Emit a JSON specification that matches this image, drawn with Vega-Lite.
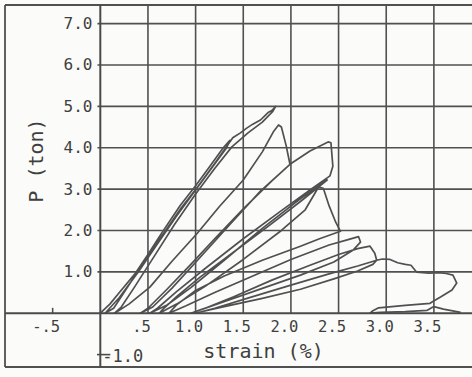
{
  "$schema": "https://vega.github.io/schema/vega-lite/v6.json",
  "width": 467,
  "height": 362,
  "autosize": {"type": "none"},
  "padding": {"left": 5, "top": 5, "right": 0, "bottom": 10},
  "background": "#fbfbf9",
  "config": {"view": {"stroke": null}},
  "data": {"values": [{}]},
  "datasets": {
    "vgrid": [{"s": 0.5}, {"s": 1.0}, {"s": 1.5}, {"s": 2.0}, {"s": 2.5}, {"s": 3.0}, {"s": 3.5}],
    "hgrid": [{"p": 1}, {"p": 2}, {"p": 3}, {"p": 4}, {"p": 5}, {"p": 6}, {"p": 7}],
    "curve": [
      {"t":1,"s":0,"p":0},{"t":2,"s":0.1,"p":0.22},{"t":3,"s":0.2,"p":0.5},{"t":4,"s":0.37,"p":0.97},{"t":5,"s":0.5,"p":1.42},{"t":6,"s":0.65,"p":1.96},{"t":7,"s":0.84,"p":2.61},{"t":8,"s":1.0,"p":3.08},{"t":9,"s":1.15,"p":3.55},{"t":10,"s":1.29,"p":4.0},{"t":11,"s":1.36,"p":4.18},
      {"t":12,"s":1.32,"p":3.98},{"t":13,"s":1.15,"p":3.45},{"t":14,"s":1.0,"p":2.98},{"t":15,"s":0.8,"p":2.35},{"t":16,"s":0.6,"p":1.68},{"t":17,"s":0.4,"p":1.0},{"t":18,"s":0.2,"p":0.38},{"t":19,"s":0.05,"p":0},
      {"t":20,"s":0.14,"p":0.12},{"t":21,"s":0.3,"p":0.68},{"t":22,"s":0.5,"p":1.38},{"t":23,"s":0.7,"p":2.05},{"t":24,"s":0.85,"p":2.55},{"t":25,"s":1.02,"p":3.05},{"t":26,"s":1.2,"p":3.62},{"t":27,"s":1.39,"p":4.24},{"t":28,"s":1.47,"p":4.36},{"t":29,"s":1.54,"p":4.48},{"t":30,"s":1.6,"p":4.57},{"t":31,"s":1.68,"p":4.67},{"t":32,"s":1.72,"p":4.76},{"t":33,"s":1.76,"p":4.85},{"t":34,"s":1.8,"p":4.9},{"t":35,"s":1.84,"p":5.0},
      {"t":36,"s":1.81,"p":4.88},{"t":37,"s":1.7,"p":4.62},{"t":38,"s":1.55,"p":4.36},{"t":39,"s":1.38,"p":4.02},{"t":40,"s":1.2,"p":3.5},{"t":41,"s":1.0,"p":2.88},{"t":42,"s":0.78,"p":2.15},{"t":43,"s":0.55,"p":1.32},{"t":44,"s":0.35,"p":0.6},{"t":45,"s":0.22,"p":0.15},{"t":46,"s":0.15,"p":0},
      {"t":47,"s":0.3,"p":0.22},{"t":48,"s":0.52,"p":0.63},{"t":49,"s":0.75,"p":1.25},{"t":50,"s":1.02,"p":1.94},{"t":51,"s":1.25,"p":2.58},{"t":52,"s":1.5,"p":3.22},{"t":53,"s":1.7,"p":3.9},{"t":54,"s":1.82,"p":4.4},{"t":55,"s":1.87,"p":4.55},{"t":56,"s":1.9,"p":4.5},{"t":57,"s":1.95,"p":4.05},{"t":58,"s":1.99,"p":3.6},
      {"t":59,"s":1.8,"p":3.2},{"t":60,"s":1.5,"p":2.52},{"t":61,"s":1.2,"p":1.8},{"t":62,"s":0.95,"p":1.18},{"t":63,"s":0.7,"p":0.58},{"t":64,"s":0.5,"p":0.12},{"t":65,"s":0.42,"p":0},
      {"t":66,"s":0.55,"p":0.15},{"t":67,"s":0.75,"p":0.6},{"t":68,"s":1.02,"p":1.28},{"t":69,"s":1.35,"p":2.12},{"t":70,"s":1.68,"p":2.95},{"t":71,"s":1.99,"p":3.6},{"t":72,"s":2.2,"p":3.92},{"t":73,"s":2.39,"p":4.14},{"t":74,"s":2.42,"p":4.12},{"t":75,"s":2.44,"p":3.55},{"t":76,"s":2.41,"p":3.32},
      {"t":77,"s":2.2,"p":2.98},{"t":78,"s":1.9,"p":2.48},{"t":79,"s":1.5,"p":1.8},{"t":80,"s":1.1,"p":1.08},{"t":81,"s":0.8,"p":0.52},{"t":82,"s":0.6,"p":0.12},{"t":83,"s":0.52,"p":0},
      {"t":84,"s":0.7,"p":0.2},{"t":85,"s":0.95,"p":0.62},{"t":86,"s":1.3,"p":1.28},{"t":87,"s":1.7,"p":2.05},{"t":88,"s":2.05,"p":2.68},{"t":89,"s":2.25,"p":3.02},{"t":90,"s":2.38,"p":3.22},
      {"t":91,"s":2.1,"p":2.7},{"t":92,"s":1.75,"p":2.08},{"t":93,"s":1.4,"p":1.48},{"t":94,"s":1.05,"p":0.88},{"t":95,"s":0.8,"p":0.4},{"t":96,"s":0.65,"p":0.08},{"t":97,"s":0.62,"p":0},
      {"t":98,"s":0.8,"p":0.22},{"t":99,"s":1.1,"p":0.65},{"t":100,"s":1.5,"p":1.3},{"t":101,"s":1.9,"p":2.0},{"t":102,"s":2.15,"p":2.5},{"t":103,"s":2.29,"p":3.05},{"t":104,"s":2.34,"p":3.02},{"t":105,"s":2.4,"p":2.6},{"t":106,"s":2.47,"p":2.2},{"t":107,"s":2.52,"p":1.98},
      {"t":108,"s":2.3,"p":1.8},{"t":109,"s":2.1,"p":1.62},{"t":110,"s":1.7,"p":1.28},{"t":111,"s":1.3,"p":0.9},{"t":112,"s":1.0,"p":0.55},{"t":113,"s":0.8,"p":0.2},{"t":114,"s":0.72,"p":0},
      {"t":115,"s":0.9,"p":0.18},{"t":116,"s":1.2,"p":0.5},{"t":117,"s":1.6,"p":0.9},{"t":118,"s":2.0,"p":1.3},{"t":119,"s":2.4,"p":1.65},{"t":120,"s":2.6,"p":1.78},{"t":121,"s":2.71,"p":1.85},{"t":122,"s":2.73,"p":1.72},{"t":123,"s":2.65,"p":1.52},{"t":124,"s":2.45,"p":1.24},
      {"t":125,"s":2.1,"p":0.92},{"t":126,"s":1.7,"p":0.6},{"t":127,"s":1.35,"p":0.32},{"t":128,"s":1.05,"p":0.08},{"t":129,"s":0.95,"p":0},
      {"t":130,"s":1.1,"p":0.12},{"t":131,"s":1.4,"p":0.4},{"t":132,"s":1.8,"p":0.8},{"t":133,"s":2.2,"p":1.16},{"t":134,"s":2.5,"p":1.42},{"t":135,"s":2.7,"p":1.56},{"t":136,"s":2.83,"p":1.62},{"t":137,"s":2.88,"p":1.45},{"t":138,"s":2.9,"p":1.28},
      {"t":139,"s":2.86,"p":1.18},{"t":140,"s":2.7,"p":1.02},{"t":141,"s":2.45,"p":0.83},{"t":142,"s":2.1,"p":0.58},{"t":143,"s":1.7,"p":0.36},{"t":144,"s":1.3,"p":0.16},{"t":145,"s":1.05,"p":0.03},{"t":146,"s":1.0,"p":0},
      {"t":147,"s":1.2,"p":0.12},{"t":148,"s":1.6,"p":0.4},{"t":149,"s":2.0,"p":0.68},{"t":150,"s":2.4,"p":0.95},{"t":151,"s":2.7,"p":1.14},{"t":152,"s":2.9,"p":1.28},{"t":153,"s":2.96,"p":1.31},{"t":154,"s":3.04,"p":1.3},{"t":155,"s":3.12,"p":1.22},{"t":156,"s":3.2,"p":1.18},{"t":157,"s":3.26,"p":1.16},{"t":158,"s":3.32,"p":0.99},{"t":159,"s":3.45,"p":0.97},{"t":160,"s":3.55,"p":0.98},{"t":161,"s":3.63,"p":0.96},{"t":162,"s":3.7,"p":0.92},{"t":163,"s":3.74,"p":0.73},{"t":164,"s":3.69,"p":0.56},{"t":165,"s":3.57,"p":0.39},{"t":166,"s":3.48,"p":0.27},{"t":167,"s":3.46,"p":0.24},{"t":168,"s":3.2,"p":0.19},{"t":169,"s":2.92,"p":0.13},{"t":170,"s":2.86,"p":0.06},{"t":171,"s":2.83,"p":0},{"t":172,"s":2.94,"p":0.02},{"t":173,"s":3.2,"p":0.04},{"t":174,"s":3.43,"p":0.07},{"t":175,"s":3.5,"p":0.16},{"t":176,"s":3.6,"p":0.1},{"t":177,"s":3.78,"p":0.02}
    ]
  },
  "layer": [
    {
      "data": {"name": "curve"},
      "mark": {"type": "line", "color": "#505050", "strokeWidth": 1.7, "strokeJoin": "round"},
      "encoding": {
        "x": {
          "field": "s", "type": "quantitative",
          "scale": {"domain": [-1.0, 3.9], "nice": false, "zero": false},
          "axis": {
            "orient": "bottom", "offset": -54,
            "values": [-0.5, 0.5, 1, 1.5, 2, 2.5, 3, 3.5],
            "labelExpr": "datum.value == -0.5 ? '-.5' : datum.value == 0.5 ? '.5' : format(datum.value, '.1f')",
            "domain": false, "ticks": false, "grid": false,
            "labelPadding": 6, "labelFont": "DejaVu Sans Mono", "labelFontSize": 15.5, "labelColor": "#3f3f3f",
            "labelOffset": -7, "labelFlush": false, "labelOverlap": false,
            "title": "strain (%)", "titleFont": "DejaVu Sans Mono", "titleFontSize": 20, "titleFontWeight": "normal",
            "titleColor": "#3f3f3f", "titleX": 258, "titleY": 44, "titleBaseline": "alphabetic", "titleAlign": "center"
          }
        },
        "y": {
          "field": "p", "type": "quantitative",
          "scale": {"domain": [-1.3, 7.45], "nice": false, "zero": false},
          "axis": {
            "orient": "left", "offset": -95,
            "values": [1, 2, 3, 4, 5, 6, 7], "format": ".1f",
            "domain": false, "ticks": false, "grid": false,
            "labelPadding": 8, "labelFont": "DejaVu Sans Mono", "labelFontSize": 16, "labelColor": "#3f3f3f",
            "title": "P (ton)", "titleFont": "DejaVu Sans Mono", "titleFontSize": 20, "titleFontWeight": "normal",
            "titleColor": "#3f3f3f", "titleX": -64, "titleY": 155, "titleAngle": -90, "titleBaseline": "middle", "titleAlign": "center"
          }
        },
        "order": {"field": "t", "type": "quantitative"}
      }
    },
    {
      "mark": {"type": "rule", "color": "#505050", "strokeWidth": 1.8},
      "encoding": {"x": {"datum": -1.0, "type": "quantitative", "scale": {"domain": [-1.0, 3.9], "nice": false, "zero": false}}}
    },
    {
      "mark": {"type": "rule", "color": "#505050", "strokeWidth": 1.8},
      "encoding": {"y": {"datum": 7.45, "type": "quantitative", "scale": {"domain": [-1.3, 7.45], "nice": false, "zero": false}}}
    },
    {
      "mark": {"type": "rule", "color": "#505050", "strokeWidth": 1.8},
      "encoding": {"y": {"datum": -1.3, "type": "quantitative", "scale": {"domain": [-1.3, 7.45], "nice": false, "zero": false}}}
    },
    {
      "data": {"name": "vgrid"},
      "mark": {"type": "rule", "color": "#505050", "strokeWidth": 1.6},
      "encoding": {
        "x": {"field": "s", "type": "quantitative", "scale": {"domain": [-1.0, 3.9], "nice": false, "zero": false}},
        "y": {"datum": 0, "type": "quantitative", "scale": {"domain": [-1.3, 7.45], "nice": false, "zero": false}},
        "y2": {"datum": 7.45}
      }
    },
    {
      "data": {"name": "hgrid"},
      "mark": {"type": "rule", "color": "#505050", "strokeWidth": 1.6},
      "encoding": {
        "y": {"field": "p", "type": "quantitative", "scale": {"domain": [-1.3, 7.45], "nice": false, "zero": false}},
        "x": {"datum": -0.03, "type": "quantitative", "scale": {"domain": [-1.0, 3.9], "nice": false, "zero": false}},
        "x2": {"datum": 3.9}
      }
    },
    {
      "mark": {"type": "rule", "color": "#4a4a4a", "strokeWidth": 2},
      "encoding": {"y": {"datum": 0, "type": "quantitative", "scale": {"domain": [-1.3, 7.45], "nice": false, "zero": false}}}
    },
    {
      "mark": {"type": "rule", "color": "#4a4a4a", "strokeWidth": 2},
      "encoding": {"x": {"datum": 0, "type": "quantitative", "scale": {"domain": [-1.0, 3.9], "nice": false, "zero": false}}}
    },
    {
      "mark": {"type": "rule", "color": "#4a4a4a", "strokeWidth": 1.5},
      "encoding": {
        "x": {"datum": -0.5, "type": "quantitative", "scale": {"domain": [-1.0, 3.9], "nice": false, "zero": false}},
        "y": {"datum": 0, "type": "quantitative", "scale": {"domain": [-1.3, 7.45], "nice": false, "zero": false}},
        "y2": {"datum": 0.13}
      }
    },
    {
      "mark": {"type": "rule", "color": "#4a4a4a", "strokeWidth": 1.6},
      "encoding": {
        "y": {"datum": -1.0, "type": "quantitative", "scale": {"domain": [-1.3, 7.45], "nice": false, "zero": false}},
        "x": {"datum": -0.035, "type": "quantitative", "scale": {"domain": [-1.0, 3.9], "nice": false, "zero": false}},
        "x2": {"datum": 0.105}
      }
    },
    {
      "mark": {"type": "text", "font": "DejaVu Sans Mono", "fontSize": 17, "color": "#3f3f3f", "align": "left", "baseline": "middle", "dx": 2, "dy": 2},
      "encoding": {
        "x": {"datum": 0, "type": "quantitative", "scale": {"domain": [-1.0, 3.9], "nice": false, "zero": false}},
        "y": {"datum": -1.0, "type": "quantitative", "scale": {"domain": [-1.3, 7.45], "nice": false, "zero": false}},
        "text": {"value": "-1.0"}
      }
    }
  ]
}
